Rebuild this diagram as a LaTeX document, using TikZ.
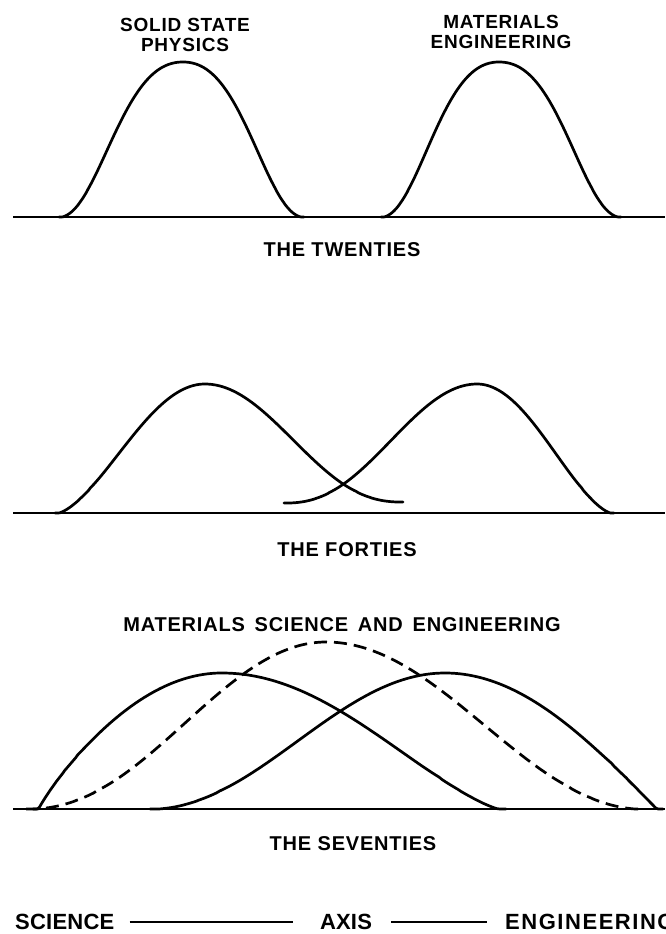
\documentclass[tikz,border=0pt]{standalone}
\usepackage{fontspec}
\newfontfamily\lblfont{Liberation Sans}[LetterSpace=4]
\newfontfamily\axfont{Liberation Sans}[LetterSpace=1]
\newfontfamily\engfont{Liberation Sans}[LetterSpace=7]
\tikzset{
  declare function={
    hbase(\xx,\cc,\ww)=max((1+cos(180*((\xx-\cc)/\ww)))/2,0.002);
    hump(\xx,\cc,\ww,\pp)=(exp(\pp*ln(hbase(\xx,\cc,\ww)))-exp(\pp*ln(0.002)))/(1-exp(\pp*ln(0.002)));
    bell(\xx,\cc,\ww)=(1-min(abs((\xx-\cc)/\ww),1)^3)^3;
    mixbell(\xx,\cc,\ww)=0.5*bell(\xx,\cc,\ww)+0.5*hump(\xx,\cc,\ww,0.8);
  },
  humpline/.style={line width=2.7pt, line join=round, line cap=round},
  dashhump/.style={humpline, line cap=butt, dash pattern=on 13pt off 7pt},
  groundline/.style={line width=2.7pt},
  periodlabel/.style={font=\lblfont\bfseries\fontsize{20}{24}\selectfont, inner sep=0pt},
  fieldlabel/.style={font=\lblfont\bfseries\fontsize{19}{20.5}\selectfont, inner sep=0pt, align=center, anchor=north},
  axlabel/.style={font=\axfont\bfseries\fontsize{22}{26}\selectfont, inner sep=0pt},
  englabel/.style={font=\engfont\bfseries\fontsize{22}{26}\selectfont, inner sep=0pt},
  axisrule/.style={line width=2.2pt}
}
\begin{document}
\begin{tikzpicture}[x=1pt, y=-1pt, samples=90]
\useasboundingbox (0,0) rectangle (665,934);
\clip (0,0) rectangle (665,934);
\fill[white] (0,0) rectangle (665,934);

% ---------------- THE TWENTIES ----------------
\node[fieldlabel] (ssp) at (185,18) {SOLID STATE\\PHYSICS};
\node[fieldlabel] (mateng) at (501,15) {MATERIALS\\ENGINEERING};
\draw[groundline] (13,217) -- (665,217);
\draw[humpline] plot[domain=59:183] (\x,{217-155*mixbell(\x,183,124)})
  -- plot[domain=183:304] (\x,{217-155*mixbell(\x,183,121)});
\draw[humpline] plot[domain=381:499] (\x,{217-155*mixbell(\x,499,118)})
  -- plot[domain=499:621] (\x,{217-155*mixbell(\x,499,122)});
\node[periodlabel] (twenties) at (342,250) {THE TWENTIES};

% ---------------- THE FORTIES ----------------
\draw[groundline] (13,513) -- (665,513);
\draw[humpline] plot[domain=55:205] (\x,{513-129*hump(\x,205,150,0.8)})
  -- plot[domain=205:403] (\x,{502-118*hump(\x,205,198,1.2)});
\draw[humpline] plot[domain=284:477] (\x,{503-119*hump(\x,477,193,1.2)})
  -- plot[domain=477:614] (\x,{513-129*hump(\x,477,137,0.8)});
\node[periodlabel] (forties) at (347,550) {THE FORTIES};

% ---------------- THE SEVENTIES ----------------
\node[periodlabel] (mse) at (342,625) {MATERIALS\, SCIENCE\, AND\, ENGINEERING};
\draw[groundline] (13,809) -- (665,809);
\draw[humpline] plot[domain=33:222] (\x,{809-136*hump(\x,222,189,0.4)})
  -- plot[domain=222:506] (\x,{809-136*hump(\x,222,284,0.7)});
\draw[humpline] plot[domain=150:445] (\x,{809-136*hump(\x,445,295,1)})
  -- plot[domain=445:663] (\x,{809-136*hump(\x,445,218,0.5)});
\draw[dashhump] plot[domain=26:326] (\x,{809-167*hump(\x,326,300,1.1)})
  -- plot[domain=326:644] (\x,{809-167*hump(\x,326,318,1)});
\node[periodlabel] (seventies) at (353,844) {THE SEVENTIES};

% ---------------- AXIS ----------------
\node[axlabel, anchor=west] (sci) at (15,922) {SCIENCE};
\node[axlabel] (axis) at (346,922) {AXIS};
\node[englabel, anchor=west] (eng) at (505,922) {ENGINEERING};
\draw[axisrule, shorten <=15pt, shorten >=27pt] (sci) -- (axis);
\draw[axisrule, shorten <=19pt, shorten >=18pt] (axis) -- (eng);
\end{tikzpicture}
\end{document}
